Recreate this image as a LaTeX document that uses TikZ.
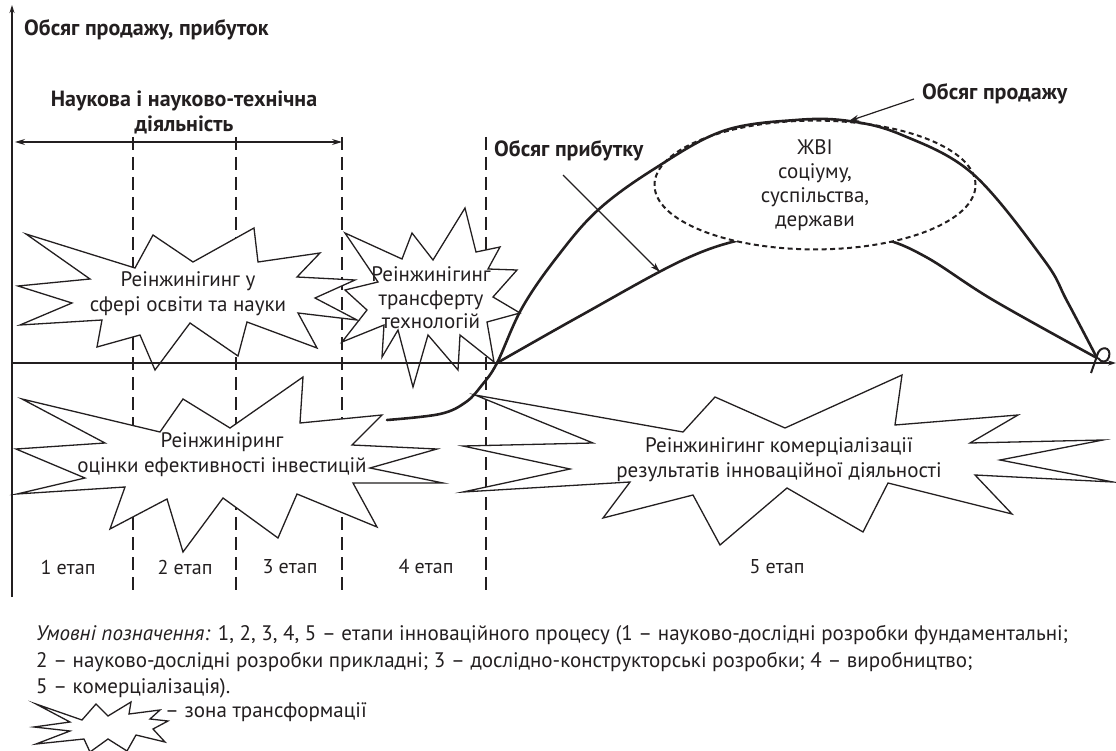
\documentclass[tikz,border=0pt]{standalone}
\usepackage{fontspec}
\setmainfont{PT Sans}
\usetikzlibrary{arrows.meta,shapes.geometric}
\definecolor{ink}{RGB}{35,31,32}
\begin{document}
\begin{tikzpicture}[x=1pt,y=-1pt,
  zone/.style={draw=ink,line width=1.3pt,line join=miter,miter limit=30},
  ztxt/.style={font=\fontsize{21}{25}\selectfont,text=ink,align=center,inner sep=0pt},
  stxt/.style={font=\fontsize{20}{24}\selectfont,text=ink,inner sep=0pt},
  blbl/.style={font=\bfseries\fontsize{22}{25}\selectfont,text=ink,inner sep=0pt},
  stagedash/.style={draw=ink,line width=1.2pt,dash pattern=on 13pt off 7pt},
  curve/.style={draw=ink,line width=2.6pt,line cap=round},
  axis/.style={draw=ink,line width=1.2pt,-{Stealth[length=8pt,width=5pt]}},
  pointer/.style={draw=ink,line width=1.2pt,-{Stealth[length=10pt,width=6pt]}},
  legend/.style={font=\fontsize{21}{25}\selectfont,text=ink,anchor=west,inner sep=0pt}]
\useasboundingbox (0,0) rectangle (1116,751);

% dashed stage borders
\foreach \xx/\nm in {133/a,236/b,342/c,486/d}{
  \coordinate (top\nm) at (\xx,137);
  \coordinate (bot\nm) at (\xx,596);
  \draw[stagedash] (top\nm) -- (bot\nm);
}

% transformation zones (stars)
\path[save path=\pA] (26,234) -- (135,268) -- (153,235) -- (193,262) -- (254,228) -- (258,262) -- (320,253) -- (297,277) -- (355,280) -- (315,298) -- (357,320) -- (298,313) -- (317,348) -- (247,322) -- (238,356) -- (190,323) -- (155,370) -- (140,335) -- (97,347) -- (102,320) -- (20,325) -- (72,303) -- (18,286) -- (90,279) -- cycle;
\path[save path=\pB] (345,233) -- (402,259) -- (412,233) -- (433,260) -- (465,208) -- (476,252) -- (500,247) -- (488,269) -- (517,270) -- (493,297) -- (520,313) -- (487,322) -- (494,362) -- (460,335) -- (458,370) -- (428,335) -- (413,387) -- (398,330) -- (382,357) -- (384,325) -- (342,342) -- (367,310) -- (345,290) -- (378,282) -- cycle;
\path[save path=\pC] (22,399) -- (160,432) -- (183,399) -- (230,428) -- (303,377) -- (300,423) -- (382,415) -- (352,445) -- (437,449) -- (370,468) -- (443,483) -- (353,483) -- (377,527) -- (297,494) -- (278,538) -- (223,498) -- (183,552) -- (167,499) -- (110,529) -- (125,487) -- (17,494) -- (85,478) -- (16,449) -- (105,443) -- cycle;
\path[save path=\pD] (475,395) -- (683,432) -- (715,397) -- (785,428) -- (902,375) -- (895,425) -- (1018,415) -- (970,443) -- (1103,440) -- (1000,460) -- (1113,482) -- (975,475) -- (1012,514) -- (888,483) -- (863,532) -- (787,488) -- (720,545) -- (693,495) -- (603,518) -- (630,482) -- (463,492) -- (570,469) -- (463,446) -- (593,443) -- cycle;
\path[save path=\pE] (36,704) -- (82,720) -- (96,704) -- (108,716) -- (131,702) -- (129,714) -- (160,710) -- (150,719) -- (168,721) -- (153,729) -- (165,742) -- (136,735) -- (127,751) -- (108,739) -- (90,752) -- (84,739) -- (36,744) -- (70,731) -- (34,727) -- (70,722) -- cycle;

\path[use path=\pA,fill=white];
\path[use path=\pB,fill=white];
\path[use path=\pC,fill=white];
\path[use path=\pD,fill=white];
\path[use path=\pE,fill=white];
\path[use path=\pA,zone];
\path[use path=\pB,zone];
\path[use path=\pC,zone];
\path[use path=\pD,zone];
\path[use path=\pE,zone];

\node[ztxt] (zone1) at (188,294) {Реінжинігинг у\\сфері освіти та науки};
\node[ztxt,font=\fontsize{21}{23.5}\selectfont] (zone2) at (431,298) {Реінжинігинг\\трансферту\\технологій};
\node[ztxt] (zone3) at (222,455) {Реінжиніринг\\оцінки ефективності інвестицій};
\node[ztxt] (zone4) at (779,460) {Реінжинігинг комерціалізації\\результатів інноваційної діяльності};

% axes
\coordinate (origin) at (12,363);
\coordinate (ybot) at (12,597);
\coordinate (ytop) at (12,5);
\coordinate (xend) at (1116,363);
\draw[axis] (ybot) -- (ytop);
\draw[axis] (origin) -- (xend);

% science span arrow
\coordinate (spanL) at (15,142);
\coordinate (spanR) at (342,142);
\draw[draw=ink,line width=1.2pt,{Stealth[length=10pt,width=6pt]}-{Stealth[length=10pt,width=6pt]}] (spanL) -- (spanR);

% profit curve (under ellipse)
\draw[curve] plot[smooth,tension=0.6] coordinates {(497,363) (580,316) (683,260) (748,238) (815,228) (880,238) (926,257) (993,300) (1097,358)};

% ellipse
\node[ellipse,draw=ink,fill=white,line width=2pt,dash pattern=on 5pt off 3.5pt,minimum width=321pt,minimum height=116pt,inner sep=0pt,align=center,font=\fontsize{21}{24}\selectfont,text=ink] (zvi) at (815,185) {ЖВІ\\соціуму,\\суспільства,\\держави};

% sales curve
\draw[curve] plot[smooth,tension=0.6] coordinates {(387,420) (440,414) (466,402) (482,385) (497,363) (522,308) (557,257) (598,210) (654,169) (723,131) (796,120) (849,121) (902,135) (973,174) (1044,260) (1067,301) (1097,358)};

% end loop
\draw[draw=ink,line width=2pt] (1091,373) -- (1097,356) .. controls (1099,345) and (1112,346) .. (1109,357) .. controls (1107,363) and (1101,363) .. (1098,358);

% labels
\node[blbl,anchor=west] (ylabel) at (24,30) {Обсяг продажу, прибуток};
\node[blbl,align=center] (science) at (184,112) {Наукова і науково-технічна\\діяльність};
\node[blbl,anchor=west] (profitlbl) at (494,151) {Обсяг прибутку};
\node[blbl,anchor=west] (saleslbl) at (922,94) {Обсяг продажу};

\coordinate (profStart) at (563,175);
\coordinate (profTip) at (660,272);
\draw[pointer] (profStart) -- (profTip);
\coordinate (salesStart) at (914,99);
\coordinate (salesTip) at (849,121);
\draw[pointer] (salesStart) -- (salesTip);

% stage labels
\node[stxt] (st1) at (68,567) {1 етап};
\node[stxt] (st2) at (185,567) {2 етап};
\node[stxt] (st3) at (290,567) {3 етап};
\node[stxt] (st4) at (426,567) {4 етап};
\node[stxt] (st5) at (777,567) {5 етап};

% legend
\node[legend] (leg1) at (36,635) {\textit{Умовні позначення:} 1, 2, 3, 4, 5 – етапи інноваційного процесу (1 – науково-дослідні розробки фундаментальні;};
\node[legend] (leg2) at (36,662) {2 – науково-дослідні розробки прикладні; 3 – дослідно-конструкторські розробки; 4 – виробництво;};
\node[legend] (leg3) at (36,688) {5 – комерціалізація).};
\node[legend] (leg4) at (165,712) {– зона трансформації};
\end{tikzpicture}
\end{document}
